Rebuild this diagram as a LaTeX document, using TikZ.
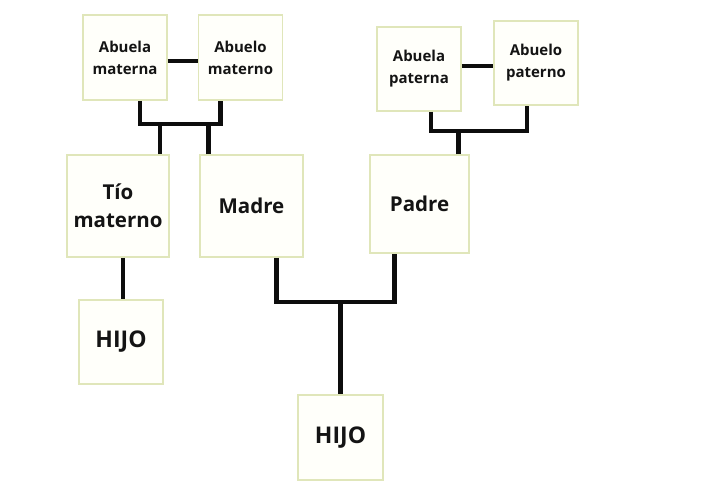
\documentclass[tikz,border=0pt]{standalone}
\usepackage{fontspec}
\setmainfont{Open Sans}
\definecolor{boxline}{RGB}{224,230,186}
\definecolor{boxfill}{RGB}{255,255,250}
\tikzset{
  person/.style={draw=boxline, fill=boxfill, line width=1.8pt, align=center,
    inner sep=0pt, font=\bfseries, text=black!92},
  small/.style={person, minimum width=84pt, minimum height=85pt, font=\bfseries\fontsize{15}{22}\selectfont},
  mid/.style={person, minimum width=102pt, minimum height=102pt, font=\bfseries\fontsize{20.5}{28}\selectfont},
  kid/.style={person, minimum width=84pt, minimum height=84pt, font=\bfseries\fontsize{23}{28}\selectfont},
  link/.style={line width=4.5pt, black!95}
}
\begin{document}
\begin{tikzpicture}[x=1pt,y=-1pt]
\useasboundingbox (0,0) rectangle (720,503);
% grandparents
\node[small] (am) at (125,57.5) {Abuela\\materna};
\node[small] (ao) at (240.5,57.5) {Abuelo\\materno};
\node[small, minimum height=84pt] (ap) at (419,69) {Abuela\\paterna};
\node[small, minimum height=84pt] (aop) at (536,63) {Abuelo\\paterno};
% parents
\node[mid] (tio) at (118,206) {Tío\\materno};
\node[mid, minimum width=103pt] (madre) at (251.5,206) {Madre};
\node[mid, minimum width=99pt, minimum height=98pt] (padre) at (419.5,204) {Padre};
% children
\node[kid] (hijoa) at (121,342) {HIJO};
\node[kid, minimum width=85pt, minimum height=85pt] (hijob) at (340.5,437.5) {HIJO};
% coordinates of bars
\coordinate (barM) at (0,124);
\coordinate (barP) at (0,131);
\coordinate (barC) at (0,302);
% couple lines
\draw[link] (am.east |- 0,61) -- (ao.west |- 0,61);
\draw[link] (ap.east |- 0,66) -- (aop.west |- 0,66);
% maternal grandparents to children
\draw[link] ([xshift=15pt]am.south) -- ([xshift=15pt]am.south |- barM) -- ([xshift=-20pt]ao.south |- barM) -- ([xshift=-20pt]ao.south);
\draw[link] ([xshift=42pt]tio.north) -- ([xshift=42pt]tio.north |- barM);
\draw[link] ([xshift=-43pt]madre.north) -- ([xshift=-43pt]madre.north |- barM);
% paternal grandparents to padre
\draw[link] ([xshift=12pt]ap.south) -- ([xshift=12pt]ap.south |- barP) -- ([xshift=-9pt]aop.south |- barP) -- ([xshift=-9pt]aop.south);
\draw[link] ([xshift=39pt]padre.north) -- ([xshift=39pt]padre.north |- barP);
% tio to hijo
\draw[link] ([xshift=5pt]tio.south) -- ([xshift=5pt]tio.south |- hijoa.north);
% parents to hijo
\draw[link] ([xshift=25pt]madre.south) -- ([xshift=25pt]madre.south |- barC) -- ([xshift=-25pt]padre.south |- barC) -- ([xshift=-25pt]padre.south);
\draw[link] (hijob.north |- barC) -- (hijob.north);
\end{tikzpicture}
\end{document}
